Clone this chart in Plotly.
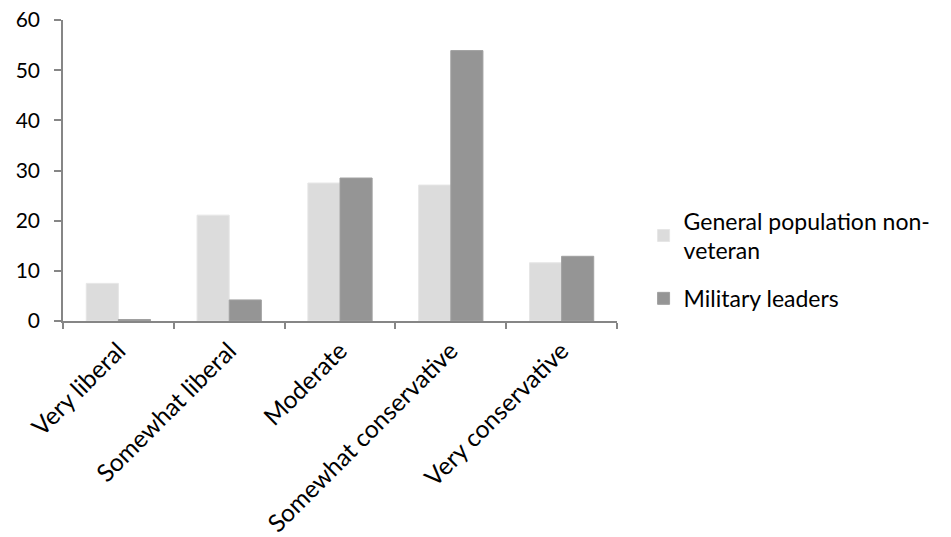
import plotly.graph_objects as go

categories = ["Very liberal", "Somewhat liberal", "Moderate",
              "Somewhat conservative", "Very conservative"]
general_population = [7.5, 21.1, 27.5, 27.1, 11.6]
military_leaders = [0.3, 4.2, 28.5, 53.9, 12.9]
y_ticks = [0, 10, 20, 30, 40, 50, 60]

FONT = "Lato, 'Open Sans', sans-serif"
AXIS = "#868686"

fig = go.Figure()
fig.add_trace(go.Bar(
    x=categories, y=general_population,
    name="General population non-<br>veteran", legendgroup="gen",
    marker=dict(color="#dcdcdc", line=dict(color="#e6e6e6", width=1)),
))
fig.add_trace(go.Bar(
    x=categories, y=military_leaders,
    name="Military leaders", legendgroup="mil",
    marker=dict(color="#959595", line=dict(color="#a0a0a0", width=1)),
))

fig.update_layout(
    width=951, height=537,
    margin=dict(l=63, r=334, t=20, b=216),
    paper_bgcolor="white", plot_bgcolor="white",
    barmode="group", bargap=0.42, bargroupgap=0,
    font=dict(family=FONT, size=23, color="#000000"),
    showlegend=True,
    legend=dict(
        x=1.048, y=0.405, xanchor="left", yanchor="top",
        font=dict(family=FONT, size=23, color="#000000"),
        bgcolor="rgba(0,0,0,0)", itemwidth=30, tracegroupgap=15,
    ),
)
fig.update_xaxes(
    type="category", tickangle=-45, tickson="boundaries",
    ticks="outside", ticklen=6, tickcolor=AXIS, tickwidth=1.5,
    showline=True, linecolor=AXIS, linewidth=1.5,
    showgrid=False, zeroline=False, automargin=False,
    ticklabelstandoff=4,
    tickfont=dict(family=FONT, size=24.5, color="#000000"),
)
fig.update_yaxes(
    range=[0, 60], tickvals=y_ticks,
    ticks="outside", ticklen=7, tickcolor=AXIS, tickwidth=1.5,
    showline=True, linecolor=AXIS, linewidth=1.5,
    showgrid=False, zeroline=False, automargin=False,
    ticklabelstandoff=10,
    tickfont=dict(family=FONT, size=21, color="#000000"),
)

fig.write_html("out.html")
